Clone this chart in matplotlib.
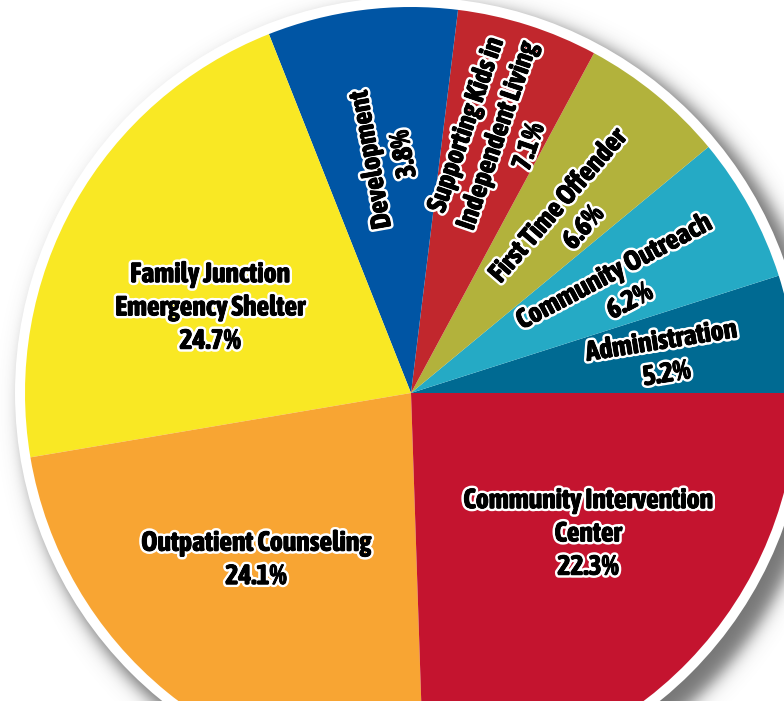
"""Recreate the program budget pie chart as out.png."""

import matplotlib.pyplot as plt
import matplotlib.patheffects as pe
import numpy as np
from matplotlib import font_manager
from matplotlib.patches import Circle

# Slices in drawing order, counter-clockwise from 3 o'clock.
programs = [
    "Administration",
    "Community Outreach",
    "First Time Offender",
    "Supporting Kids in\nIndependent Living",
    "Development",
    "Family Junction\nEmergency Shelter",
    "Outpatient Counseling",
    "Community Intervention\nCenter",
]
# Printed percentages
pct_labels = [5.2, 6.2, 6.6, 7.1, 3.8, 24.7, 24.1, 22.3]
# Angular share of each wedge as drawn in the picture (degrees)
wedge_deg = [17.7, 21.9, 22.1, 21.3, 28.6, 78.0, 82.3, 88.1]
colors = [
    "#006a92",
    "#25aac5",
    "#b2b23c",
    "#c1272d",
    "#0055a4",
    "#f9e824",
    "#f8a533",
    "#c4142f",
]

# Label layout in image pixels (x, y from top) and rotation
label_xy = [
    (664, 358), (622, 287), (571, 217), (498, 136),
    (388, 157), (210, 308), (256, 560), (588, 534),
]
label_rot = [9, 28, 49, 71, 100, 0, 0, 0]

W, H = 784, 701
CX, CY = 411, H - 393
R = 386
RING = 10


def pick_font():
    """Prefer a condensed/narrow face, bold if available."""
    narrow = [f for f in font_manager.fontManager.ttflist
              if "Condensed" in f.name or "Narrow" in f.name]
    bold = [f for f in narrow if isinstance(f.weight, int) and f.weight >= 600
            or f.weight in ("bold", "heavy", "black")]
    if bold:
        return [bold[0].name, "DejaVu Sans"], True
    if narrow:
        return [narrow[0].name, "DejaVu Sans"], False
    return ["Roboto", "DejaVu Sans"], True


def draw_shadow(ax):
    """Soft grey drop shadow under the pie, offset to the lower right."""
    xs = np.arange(W) + 0.5
    ys = np.arange(H) + 0.5
    gx, gy = np.meshgrid(xs, ys)
    d = np.hypot(gx - (CX + 12), gy - (CY - 12))
    alpha = 0.8 / (1 + np.exp((d - (R + RING + 5)) / 5.0))
    img = np.zeros((H, W, 4))
    img[..., :3] = 0.33
    img[..., 3] = alpha
    ax.imshow(img, extent=(0, W, 0, H), origin="lower", zorder=0,
              interpolation="bilinear")


def main():
    family, has_bold = pick_font()

    fig = plt.figure(figsize=(W / 100, H / 100), dpi=100)
    ax = fig.add_axes([0, 0, 1, 1])

    draw_shadow(ax)
    ax.add_patch(Circle((CX, CY), R + RING, facecolor="white",
                        edgecolor="none", zorder=1))

    wedges, _ = ax.pie(
        wedge_deg,
        colors=colors,
        startangle=0,
        counterclock=True,
        radius=R,
        center=(CX, CY),
        wedgeprops=dict(linewidth=0),
    )
    for w in wedges:
        w.set_zorder(2)

    # white halo, then a thin black stroke to make the letters heavier
    outline = [
        pe.withStroke(linewidth=4.2, foreground="white"),
        pe.withStroke(linewidth=0.6 if has_bold else 1.5, foreground="black"),
    ]
    for name, pct, (x, y), rot in zip(programs, pct_labels, label_xy, label_rot):
        ax.text(
            x, H - y, f"{name}\n{pct:.1f}%",
            ha="center", va="center", rotation=rot,
            rotation_mode="anchor", multialignment="center",
            fontsize=20, fontweight="bold" if has_bold else "normal",
            family=family, color="black", linespacing=1.3,
            path_effects=outline, zorder=3,
        )

    ax.set_xlim(0, W)
    ax.set_ylim(0, H)
    ax.set_aspect("equal")
    ax.axis("off")

    fig.savefig("out.png", dpi=100, facecolor="white")


if __name__ == "__main__":
    main()
